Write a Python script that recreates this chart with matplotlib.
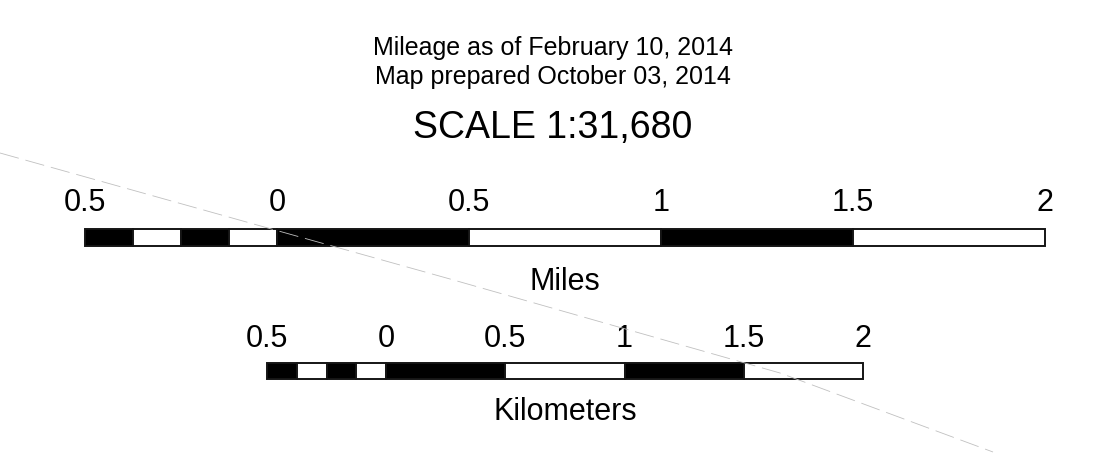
import numpy as np
import matplotlib
matplotlib.use("Agg")
from matplotlib import pyplot as plt

plt.rcParams['font.family'] = ['Liberation Sans', 'DejaVu Sans']
plt.rcParams['lines.scale_dashes'] = False

W, H = 1106, 453

# scale bar data
mile_ticks = [-0.5, 0, 0.5, 1, 1.5, 2]
mile_labels = ['0.5', '0', '0.5', '1', '1.5', '2']
km_ticks = [-0.5, 0, 0.5, 1, 1.5, 2]
km_labels = ['0.5', '0', '0.5', '1', '1.5', '2']
# left part split in quarters, then halves
seg_edges = [-0.5, -0.375, -0.25, -0.125, 0, 0.5, 1, 1.5, 2]
seg_fill = ['black', 'white', 'black', 'white', 'black', 'white', 'black', 'white']

title_lines = ['Mileage as of February 10, 2014', 'Map prepared October 03, 2014']
scale_text = 'SCALE 1:31,680'

# stray dashed line across the image (pixel coords)
stray_x = [0, 450, 780, 993]
stray_y = [153, 279, 373, 452]


def px_axes(fig, x0, y0, x1, y1):
    # axes from pixel box (top-left origin)
    return fig.add_axes([x0 / W, 1 - y1 / H, (x1 - x0) / W, (y1 - y0) / H])


def draw_bar(ax, ticks, labels, lab_off):
    lefts = np.array(seg_edges[:-1])
    widths = np.diff(seg_edges)
    bars = ax.barh(0.5, widths, left=lefts, height=1, color=seg_fill,
                   edgecolor='#151515', linewidth=1.4, align='center')
    for b in bars:
        b.set_clip_on(False)
    ax.set_xlim(seg_edges[0], seg_edges[-1])
    ax.set_ylim(0, 1)
    ax.axis('off')
    for t, l in zip(ticks, labels):
        ax.annotate(l, (t, 1), xytext=(0, lab_off), textcoords='offset points',
                    ha='center', va='baseline', fontsize=22, annotation_clip=False)


fig = plt.figure(figsize=(W / 100, H / 100), dpi=100)

ax_mi = px_axes(fig, 85, 229, 1045, 246)
draw_bar(ax_mi, mile_ticks, mile_labels, 13)

ax_km = px_axes(fig, 267, 363, 863, 379)
draw_bar(ax_km, km_ticks, km_labels, 11.5)

fig.text(553 / W, 1 - 55 / H, title_lines[0], ha='center', va='baseline', fontsize=18)
fig.text(553 / W, 1 - 84 / H, title_lines[1], ha='center', va='baseline', fontsize=18)
fig.text(553 / W, 1 - 138 / H, scale_text, ha='center', va='baseline', fontsize=27)
fig.text(565 / W, 1 - 290 / H, 'Miles', ha='center', va='baseline', fontsize=22)
fig.text(565 / W, 1 - 420 / H, 'Kilometers', ha='center', va='baseline', fontsize=22)

ax_bg = fig.add_axes([0, 0, 1, 1], zorder=5)
ax_bg.set_xlim(0, W)
ax_bg.set_ylim(H, 0)
ax_bg.patch.set_alpha(0)
ax_bg.axis('off')
ax_bg.plot(stray_x, stray_y, color='#c0c0c0', linewidth=0.6, dashes=(14, 5))

fig.savefig('out.png', dpi=100, facecolor='white')
